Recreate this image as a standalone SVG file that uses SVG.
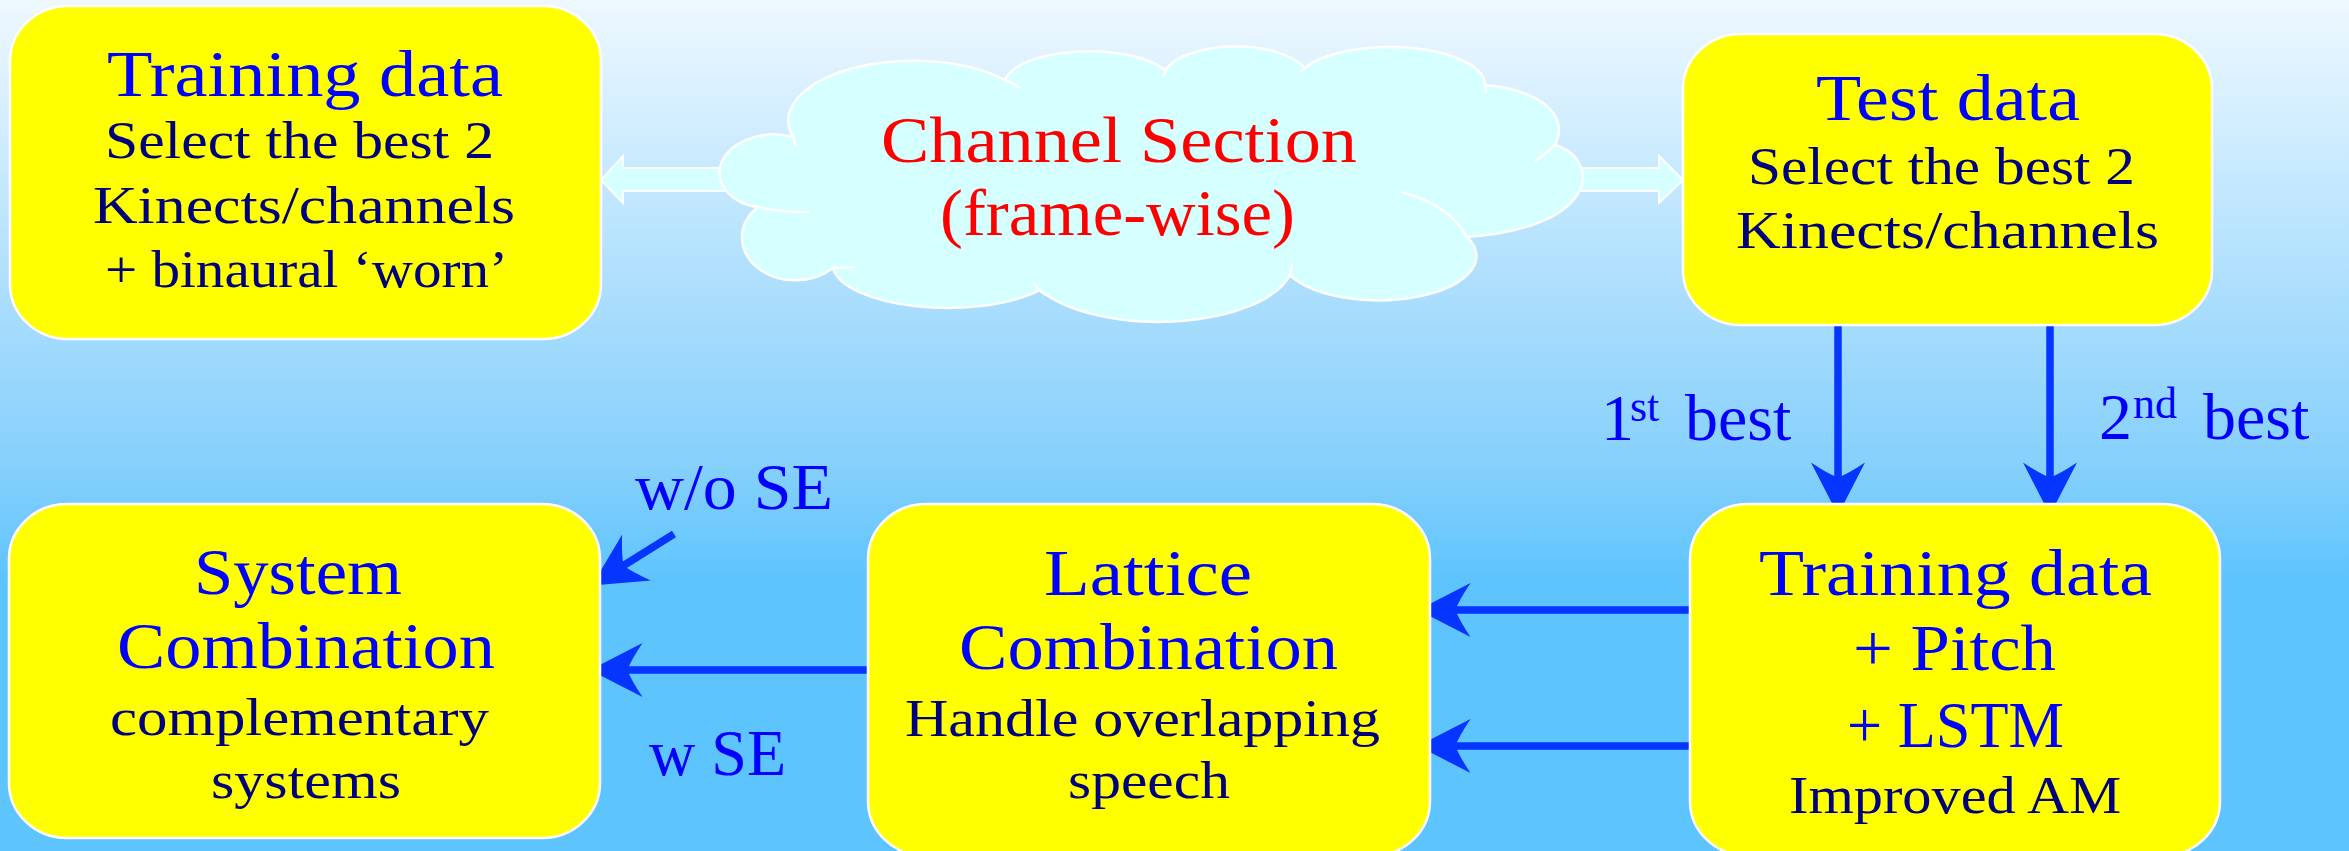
<svg xmlns="http://www.w3.org/2000/svg" width="2349" height="851" viewBox="0 0 2349 851">
<defs>
<linearGradient id="bg" x1="0" y1="0" x2="0" y2="580" gradientUnits="userSpaceOnUse">
<stop offset="0" stop-color="#eef8ff"/>
<stop offset="0.55" stop-color="#a6dcfd"/>
<stop offset="0.8" stop-color="#86d0fc"/>
<stop offset="1" stop-color="#5ec4fe"/>
</linearGradient>
<marker id="ah" markerUnits="userSpaceOnUse" markerWidth="60" markerHeight="60" viewBox="-15 -20 40 40" refX="0" refY="0" orient="auto" overflow="visible">
<path d="M24,0 L-11,-18 Q-3,-6 -1,0 Q-3,6 -11,18 Z" fill="#0535ff"/>
</marker>
<style>
.box{fill:#ffff00;stroke:#ffffff;stroke-width:2.5}
.cloud{fill:#d6ffff;stroke:#ffffff;stroke-width:2.5}
.stub{fill:none;stroke:#ffffff;stroke-width:2.5}
.blk{fill:#d6ffff;stroke:#ffffff;stroke-width:2}
.t{font-family:"Liberation Serif","Times New Roman",serif;font-size:66px;fill:#0000ff}
.s{font-family:"Liberation Serif","Times New Roman",serif;font-size:53px;fill:#00007a}
.r{font-family:"Liberation Serif","Times New Roman",serif;font-size:66px;fill:#ff0000}
.lab{font-family:"Liberation Serif","Times New Roman",serif;font-size:66px;fill:#0000ff}
.sup{font-family:"Liberation Serif","Times New Roman",serif;font-size:44px;fill:#0000ff}
.con{stroke:#0535ff;stroke-width:7.5;fill:none;marker-end:url(#ah)}
</style>
</defs>
<rect x="0" y="0" width="2349" height="851" fill="url(#bg)"/>

<g id="connectors">
<polygon class="blk" points="728,168 623,168 623,156 601,180 623,203 623,191 728,191"/>
<polygon class="blk" points="1572,168 1659,168 1659,156 1683,180 1659,203 1659,191 1572,191"/>
<line class="con" x1="1838" y1="325" x2="1838" y2="479"/>
<line class="con" x1="2050" y1="325" x2="2050" y2="479"/>
<line class="con" x1="1690" y1="610" x2="1454" y2="610"/>
<line class="con" x1="1690" y1="746" x2="1454" y2="746"/>
<line class="con" x1="868" y1="670" x2="626" y2="670"/>
<line class="con" x1="674" y1="534" x2="622.4" y2="566.3"/>
</g>

<g id="training-top">
<rect class="box" x="10" y="6" width="591" height="333" rx="58" ry="55"/>
<text class="t" x="107" y="96" textLength="396" lengthAdjust="spacingAndGlyphs">Training data</text>
<text class="s" x="105" y="158" textLength="389" lengthAdjust="spacingAndGlyphs">Select the best 2</text>
<text class="s" x="93" y="223" textLength="422" lengthAdjust="spacingAndGlyphs">Kinects/channels</text>
<text class="s" x="105" y="287" textLength="403" lengthAdjust="spacingAndGlyphs">+ binaural ‘worn’</text>
</g>

<g id="channel-section">
<path class="cloud" d="M720,167 A55,40 0 0 1 793,137 A125,60 0 0 1 1005,80 A85,34 0 0 1 1165,70 A75,35 0 0 1 1305,68 A95,38 0 0 1 1485,85 C1540,90 1570,115 1555,145 C1603,160 1598,228 1467,237 A95,43 0 0 1 1290,275 A135,61 0 0 1 1040,290 A115,44 0 0 1 833,268 A50,40 0 0 1 758,207 A45,35 0 0 1 720,167 Z"/>
<path class="stub" d="M793,137 q2,5 3,10 M1005,80 q8,3 15,8 M1163,77 q2,-5 4,-8 M1300,72 q6,-6 14,-10 M1485,85 q1,4 1,8 M1555,145 q-8,8 -20,16 M1401,192 Q1450,205 1467,237 M1292,264 q-1,8 -3,14 M1034,283 q5,8 12,12 M833,268 q10,0 22,-1 M758,207 q20,5 51,5"/>
<text class="r" x="881" y="162" textLength="476" lengthAdjust="spacingAndGlyphs">Channel Section</text>
<text class="r" x="940" y="235" textLength="355" lengthAdjust="spacingAndGlyphs">(frame-wise)</text>
</g>

<g id="test-data">
<rect class="box" x="1683" y="34" width="529" height="291" rx="58" ry="55"/>
<text class="t" x="1816" y="120" textLength="264" lengthAdjust="spacingAndGlyphs">Test data</text>
<text class="s" x="1748" y="184" textLength="387" lengthAdjust="spacingAndGlyphs">Select the best 2</text>
<text class="s" x="1736" y="248" textLength="423" lengthAdjust="spacingAndGlyphs">Kinects/channels</text>
</g>

<g id="system-combination">
<rect class="box" x="9" y="504" width="591" height="334" rx="58" ry="55"/>
<text class="t" x="194" y="594" textLength="208" lengthAdjust="spacingAndGlyphs">System</text>
<text class="t" x="117" y="668" textLength="378" lengthAdjust="spacingAndGlyphs">Combination</text>
<text class="s" x="110" y="735" textLength="379" lengthAdjust="spacingAndGlyphs">complementary</text>
<text class="s" x="211" y="798" textLength="190" lengthAdjust="spacingAndGlyphs">systems</text>
</g>

<g id="lattice-combination">
<rect class="box" x="868" y="504" width="562" height="352" rx="58" ry="55"/>
<text class="t" x="1044" y="595" textLength="208" lengthAdjust="spacingAndGlyphs">Lattice</text>
<text class="t" x="959" y="669" textLength="379" lengthAdjust="spacingAndGlyphs">Combination</text>
<text class="s" x="905" y="736" textLength="475" lengthAdjust="spacingAndGlyphs">Handle overlapping</text>
<text class="s" x="1068" y="798" textLength="162" lengthAdjust="spacingAndGlyphs">speech</text>
</g>

<g id="training-improved">
<rect class="box" x="1690" y="504" width="530" height="352" rx="58" ry="55"/>
<text class="t" x="1759" y="595" textLength="393" lengthAdjust="spacingAndGlyphs">Training data</text>
<text class="t" x="1853" y="670" textLength="203" lengthAdjust="spacingAndGlyphs">+ Pitch</text>
<text class="t" x="1847" y="747" textLength="217" lengthAdjust="spacingAndGlyphs">+ LSTM</text>
<text class="s" x="1789" y="813" textLength="332" lengthAdjust="spacingAndGlyphs">Improved AM</text>
</g>

<g id="labels">
<text class="lab" x="1601" y="440">1<tspan class="sup" x="1630" y="421">st</tspan><tspan x="1685" y="440">best</tspan></text>
<text class="lab" x="2099" y="439">2<tspan class="sup" x="2133" y="418">nd</tspan><tspan x="2203" y="439">best</tspan></text>
<text class="lab" x="635" y="509" textLength="198" lengthAdjust="spacingAndGlyphs">w/o SE</text>
<text class="lab" x="649" y="775" textLength="137" lengthAdjust="spacingAndGlyphs">w SE</text>
</g>
</svg>
